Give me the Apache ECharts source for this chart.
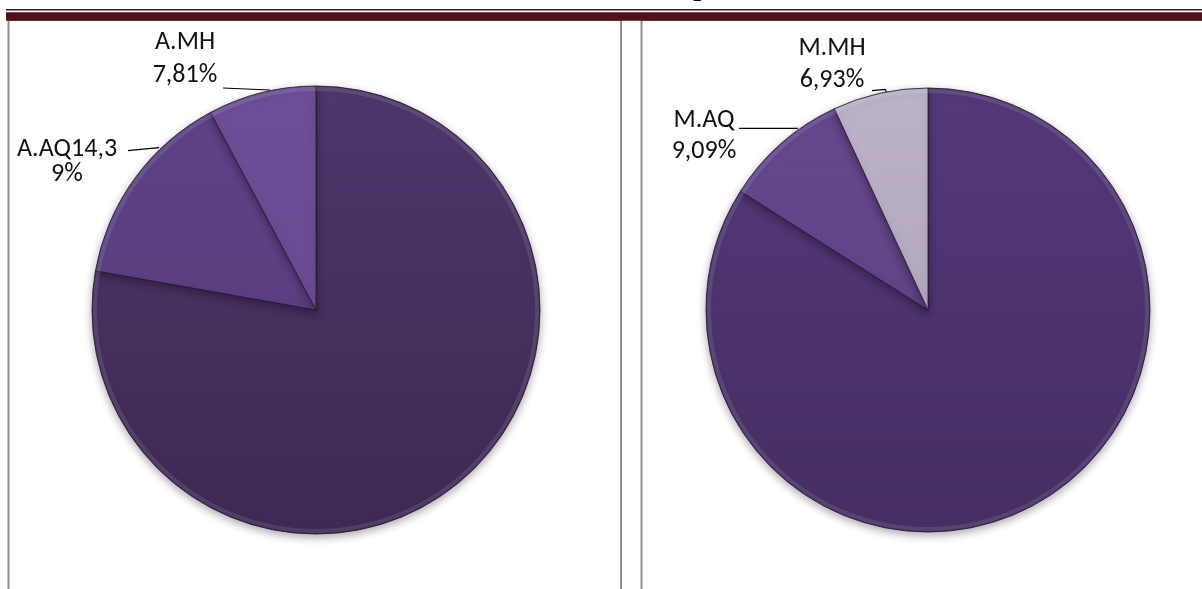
<!DOCTYPE html>
<html>
<head>
<meta charset="utf-8">
<style>
  html, body { margin: 0; padding: 0; background: #ffffff; }
  #chart { width: 1202px; height: 589px; }
</style>
<script src="https://cdn.jsdelivr.net/npm/echarts@6/dist/echarts.min.js"></script>
</head>
<body>
<div id="chart"></div>
<script>
// Shares (%) for the two groups; the first entry of each is the remaining share.
const leftNames = ['A', 'A.AQ', 'A.MH'];
const leftAQ = 14.39;
const leftMH = 7.81;
const leftValues = [100 - leftAQ - leftMH, leftAQ, leftMH];

const rightNames = ['M', 'M.AQ', 'M.MH'];
const rightAQ = 9.09;
const rightMH = 6.93;
const rightValues = [100 - rightAQ - rightMH, rightAQ, rightMH];

const LABEL_FONT = 'Carlito, Lato, "Open Sans", sans-serif';

// Number formatted with a decimal comma
function pct(v) {
  return v.toFixed(2).replace('.', ',') + '%';
}

function vgrad(cy, r, top, bottom) {
  return {
    type: 'linear', global: true,
    x: 0, y: cy - r, x2: 0, y2: cy + r,
    colorStops: [{ offset: 0, color: top }, { offset: 1, color: bottom }]
  };
}

const L = { cx: 316, cy: 310, r: 224 };
const R = { cx: 928, cy: 310, r: 222 };

const leftColors = [
  vgrad(L.cy, L.r, '#4e376c', '#3d2952'),
  vgrad(L.cy, L.r, '#5f4287', '#563b7a'),
  vgrad(L.cy, L.r, '#6e4e97', '#65478c')
];
const rightColors = [
  vgrad(R.cy, R.r, '#54397a', '#452e62'),
  vgrad(R.cy, R.r, '#66478f', '#5b3f80'),
  vgrad(R.cy, R.r, '#bdb3c8', '#a99eb5')
];

// Label placement: block centre x, block centre y, line height, leader points
const leftLabelPos = {
  1: { x: 67, y: 162, lh: 25.5, line: [[159, 147.7], [143, 149.2], [128, 150.7]] },
  2: { x: 185, y: 59, lh: 32.7, line: [[270, 90], [246, 89], [223, 88]] }
};
const rightLabelPos = {
  1: { x: 704, y: 136, lh: 30.5, line: [[798, 128.3], [770, 128.3], [739, 128.3]] },
  2: { x: 832, y: 64.6, lh: 32, line: [[887, 93], [885, 89.3], [872, 90.7]] }
};

// Label that is wrapped by width instead of at the name
const WRAP_CHARS = 8;

function buildData(names, values, colors, posMap) {
  return names.map(function (n, i) {
    const item = {
      name: n,
      value: values[i],
      itemStyle: { color: colors[i] }
    };
    if (i === 0) {
      item.label = { show: false };
      item.labelLine = { show: false };
    } else {
      item.label = { show: true, lineHeight: posMap[i].lh };
    }
    return item;
  });
}

function pieSeries(geom, data, posMap, wrapIndex) {
  return {
    type: 'pie',
    center: [geom.cx, geom.cy],
    radius: [0, geom.r],
    startAngle: 90,
    clockwise: true,
    animation: false,
    avoidLabelOverlap: false,
    itemStyle: {
      borderColor: 'rgba(38, 26, 52, 0.85)',
      borderWidth: 1,
      shadowBlur: 9,
      shadowOffsetY: 3,
      shadowColor: 'rgba(0, 0, 0, 0.32)'
    },
    label: {
      position: 'outside',
      color: '#111111',
      fontFamily: LABEL_FONT,
      fontSize: 26,
      align: 'center',
      formatter: function (p) {
        if (p.dataIndex === wrapIndex) {
          const s = p.name + pct(p.value);
          return s.slice(0, WRAP_CHARS) + '\n' + s.slice(WRAP_CHARS);
        }
        return p.name + '\n' + pct(p.value);
      }
    },
    labelLine: {
      show: true,
      lineStyle: { color: '#000000', width: 1.2 }
    },
    labelLayout: function (params) {
      const pos = posMap[params.dataIndex];
      if (!pos) return {};
      return {
        x: pos.x,
        y: pos.y,
        align: 'center',
        verticalAlign: 'middle',
        labelLinePoints: pos.line
      };
    },
    emphasis: { disabled: true },
    data: data
  };
}

// soft bevel highlight just inside the rim of a pie
function rim(geom) {
  return {
    type: 'circle', z: 5, silent: true,
    shape: { cx: geom.cx, cy: geom.cy, r: geom.r - 3 },
    style: { fill: 'none', stroke: 'rgba(255, 255, 255, 0.10)', lineWidth: 4 }
  };
}

const chart = echarts.init(document.getElementById('chart'), null, { renderer: 'canvas' });

chart.setOption({
  backgroundColor: '#ffffff',
  animation: false,
  graphic: [
    // panel frames
    {
      type: 'rect', z: 0, silent: true,
      shape: { x: 8.5, y: 20, width: 612.5, height: 620 },
      style: { fill: 'none', stroke: '#8e8e8e', lineWidth: 2 }
    },
    {
      type: 'rect', z: 0, silent: true,
      shape: { x: 641.5, y: 20, width: 620, height: 620 },
      style: { fill: 'none', stroke: '#8e8e8e', lineWidth: 2 }
    },
    rim(L),
    rim(R),
    // heading rules
    {
      type: 'rect', z: 10, silent: true,
      shape: { x: 6, y: 9, width: 1200, height: 1.6 },
      style: { fill: '#4f121b' }
    },
    {
      type: 'rect', z: 10, silent: true,
      shape: { x: 6, y: 12.3, width: 1200, height: 8.4 },
      style: { fill: '#4f121b' }
    },
    // heading text (mostly above the visible area)
    {
      type: 'text', z: 10, silent: true,
      style: {
        x: 701, y: -12,
        text: 'p',
        fill: '#000000',
        font: 'bold 28px "Liberation Serif", "DejaVu Serif", serif',
        align: 'center',
        verticalAlign: 'middle'
      }
    }
  ],
  series: [
    pieSeries(L, buildData(leftNames, leftValues, leftColors, leftLabelPos), leftLabelPos, 1),
    pieSeries(R, buildData(rightNames, rightValues, rightColors, rightLabelPos), rightLabelPos, -1)
  ]
});
</script>
</body>
</html>
